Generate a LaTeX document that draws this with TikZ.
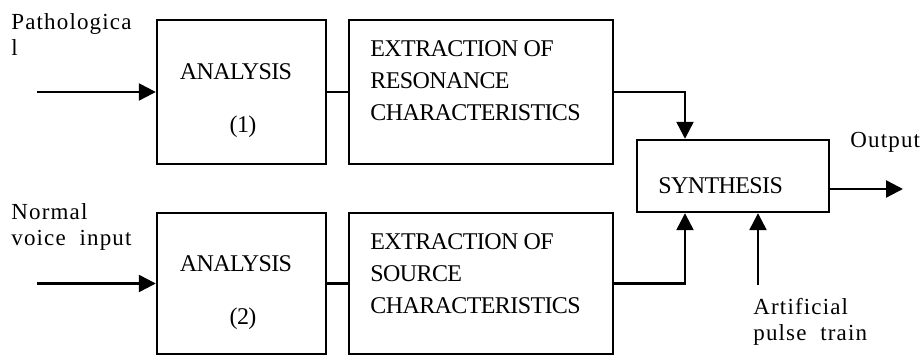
\documentclass[tikz,border=0pt]{standalone}
\usepackage{fontspec}
\setmainfont{Liberation Serif}
\newfontfamily\boxfont[LetterSpace=-2.5]{Liberation Serif}
\newfontfamily\labelfont[LetterSpace=5]{Liberation Serif}
\usetikzlibrary{arrows.meta}
\begin{document}
\begin{tikzpicture}[x=0.5pt,y=-0.5pt]
  \tikzstyle{block}=[draw,line width=1.2pt,inner sep=0pt]
  \tikzstyle{boxtext}=[inner sep=0pt,align=left,font=\boxfont\fontsize{12}{16}\selectfont]
  \tikzstyle{outtext}=[inner sep=0pt,align=left,font=\labelfont\fontsize{11.5}{13}\selectfont]
  \tikzstyle{wire}=[draw,line width=1.2pt]
  \tikzstyle{signal}=[wire,-{Triangle[length=8.5pt,width=8.5pt]}]
  \useasboundingbox (0,0) rectangle (923,356);
  % blocks
  \node[block,minimum width=84.5pt,minimum height=72pt] (ana1) at (241.5,92) {};
  \node[block,minimum width=84.5pt,minimum height=70.5pt] (ana2) at (241.5,283.5) {};
  \node[block,minimum width=132pt,minimum height=72pt] (ext1) at (481,92) {};
  \node[block,minimum width=132pt,minimum height=70.5pt] (ext2) at (481,283.5) {};
  \node[block,minimum width=96pt,minimum height=36pt] (syn) at (733,176) {};
  % texts
  \node[boxtext,anchor=north,align=center] (ana1txt) at (236,63) {ANALYSIS\\[10.5pt]\hspace*{7pt}(1)};
  \node[boxtext,anchor=north,align=center] (ana2txt) at (236,255) {ANALYSIS\\[10.5pt]\hspace*{7pt}(2)};
  \node[boxtext,anchor=north west] (ext1txt) at (370,40) {EXTRACTION OF\\RESONANCE\\CHARACTERISTICS};
  \node[boxtext,anchor=north west] (ext2txt) at (370,233) {EXTRACTION OF\\SOURCE\\CHARACTERISTICS};
  \node[boxtext,anchor=north west] (syntxt) at (658,177) {SYNTHESIS};
  \node[outtext,anchor=north west] (pathlbl) at (11,13) {Pathologica\\l};
  \node[outtext,anchor=north west] (normlbl) at (11,203) {Normal\\voice~ input};
  \node[outtext,anchor=north west] (outlbl) at (850,132) {Output};
  \node[outtext,anchor=north west] (pulselbl) at (753,298) {Artificial\\pulse~ train};
  % free ends
  \coordinate (in1) at (37,92);
  \coordinate (in2) at (37,283.5);
  \coordinate (art) at (758,285);
  \coordinate (out) at (903,189);
  % connections
  \path[signal] (in1) -- (ana1);
  \path[signal] (in2) -- (ana2);
  \path[wire] (ana1) -- (ext1);
  \path[wire] (ana2) -- (ext2);
  \path[signal] (ext1.east) -| ([xshift=-24pt]syn.north);
  \path[signal] (ext2.east) -| ([xshift=-24pt]syn.south);
  \path[signal] (art) -- (art |- syn.south);
  \path[signal] ([yshift=-6.5pt]syn.east) -- (out);
\end{tikzpicture}
\end{document}
